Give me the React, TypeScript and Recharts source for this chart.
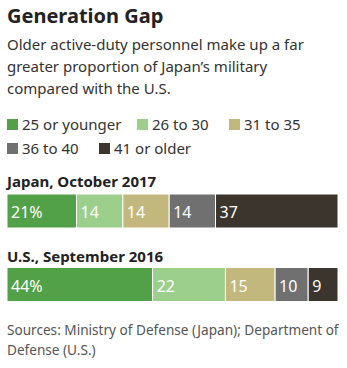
import React from "react";
import { BarChart, Bar, XAxis, YAxis, LabelList } from "recharts";

const countries = ["Japan, October 2017", "U.S., September 2016"];
const ageGroups = ["25 or younger", "26 to 30", "31 to 35", "36 to 40", "41 or older"];
const japanShares = [21, 14, 14, 14, 37];
const usShares = [44, 22, 15, 10, 9];
const colors = ["#52a047", "#9ccf8c", "#c2b87e", "#707070", "#3b352e"];

const data = [japanShares, usShares].map((vals, i) => {
  const row: Record<string, number | string> = { name: countries[i] };
  ageGroups.forEach((g, j) => (row[g] = vals[j]));
  return row;
});

const font = "'Noto Sans', sans-serif";

const segLabel = (first: boolean) => (props: any) => {
  const { x, y, height, value } = props;
  return (
    <text x={x + 4} y={y + height / 2 + 1} fill="#fff" fontSize={16} fontFamily={font} dominantBaseline="central">
      {first ? value + "%" : value}
    </text>
  );
};

const Swatch = ({ color, label, left, top }: { color: string; label: string; left: number; top: number }) => (
  <div style={{ position: "absolute", left, top, display: "flex", alignItems: "center", fontSize: 15, color: "#333" }}>
    <span style={{ width: 11, height: 11, background: color, marginRight: 4, display: "inline-block" }} />
    {label}
  </div>
);

const App = () => {
  return (
    <div style={{ position: "absolute", left: 0, top: 0, width: 347, height: 368, background: "#fff", fontFamily: font }}>
      <div style={{ position: "absolute", left: 7, top: 2, fontSize: 20, fontWeight: 700, color: "#222" }}>Generation Gap</div>
      <div style={{ position: "absolute", left: 7, top: 33, width: 335, fontSize: 15, lineHeight: "22px", color: "#333" }}>
        Older active-duty personnel make up a far greater proportion of Japan’s military compared with the U.S.
      </div>
      <Swatch color={colors[0]} label={ageGroups[0]} left={7} top={114} />
      <Swatch color={colors[1]} label={ageGroups[1]} left={137} top={114} />
      <Swatch color={colors[2]} label={ageGroups[2]} left={229} top={114} />
      <Swatch color={colors[3]} label={ageGroups[3]} left={7} top={138} />
      <Swatch color={colors[4]} label={ageGroups[4]} left={99} top={138} />
      <div style={{ position: "absolute", left: 7, top: 171, fontSize: 15, fontWeight: 700, color: "#222" }}>{countries[0]}</div>
      <div style={{ position: "absolute", left: 7, top: 246, fontSize: 15, fontWeight: 700, color: "#222" }}>{countries[1]}</div>
      <div style={{ position: "absolute", left: 0, top: 174 }}>
        <BarChart width={347} height={147} data={data} layout="vertical" margin={{ top: 0, right: 9, bottom: 0, left: 7 }}>
          <XAxis type="number" domain={[0, 100]} hide />
          <YAxis type="category" dataKey="name" hide />
          {ageGroups.map((g, j) => (
            <Bar key={g} dataKey={g} stackId="a" fill={colors[j]} barSize={34} stroke="#fff" strokeWidth={1} isAnimationActive={false}>
              <LabelList dataKey={g} content={segLabel(j === 0)} />
            </Bar>
          ))}
        </BarChart>
      </div>
      <div style={{ position: "absolute", left: 7, top: 320, fontSize: 13.6, lineHeight: "20px", color: "#555", whiteSpace: "nowrap" }}>
        Sources: Ministry of Defense (Japan); Department of
        <br />
        Defense (U.S.)
      </div>
    </div>
  );
};

export default App;
